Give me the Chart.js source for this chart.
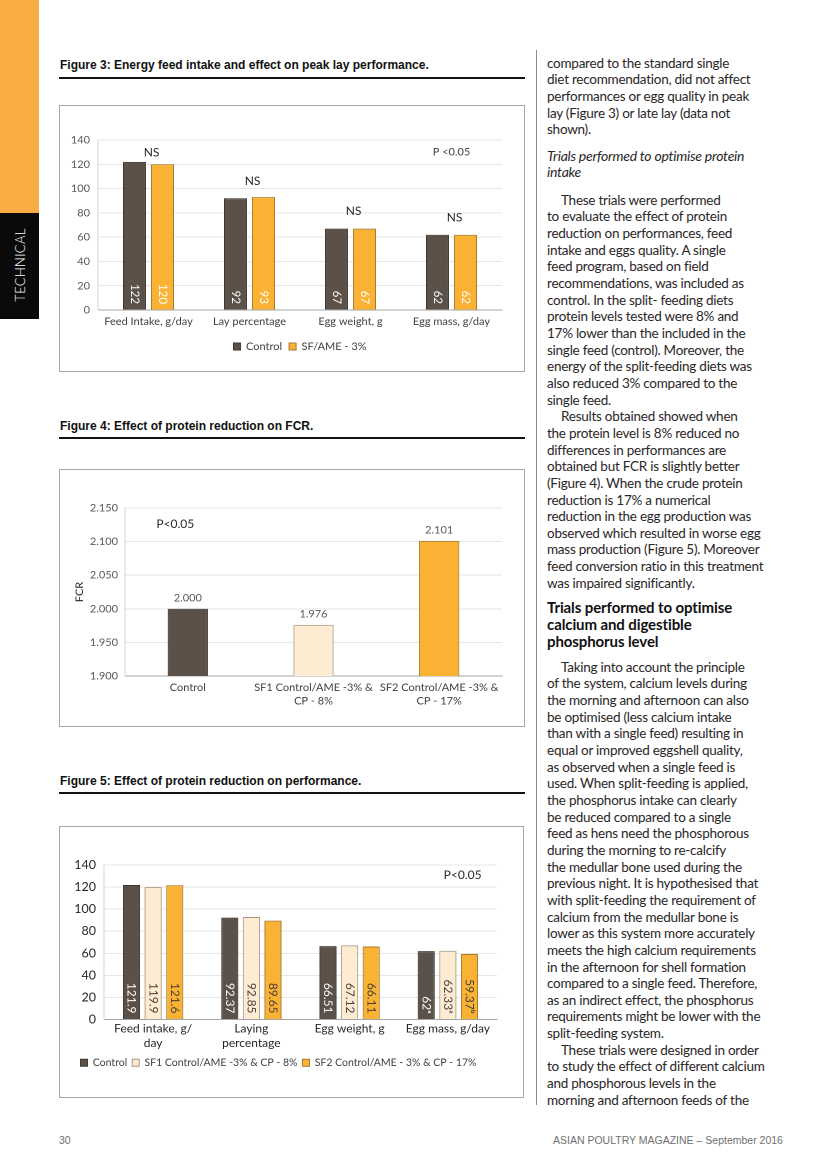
<!DOCTYPE html>
<html>
<head>
<meta charset="utf-8">
<script src="https://cdn.jsdelivr.net/npm/chart.js@4.4.1/dist/chart.umd.min.js"></script>
<style>
  body { margin: 0; width: 827px; height: 1170px; position: relative; background: #fff; overflow: hidden; font-family: Lato, sans-serif; }
  .strip-orange { position: absolute; left: 0; top: 0; width: 39px; height: 213px; background: #f9ae45; }
  .strip-black { position: absolute; left: 0; top: 213px; width: 39px; height: 106px; background: #0a0a0a; }
  .strip-text { position: absolute; left: 20px; top: 265px; transform: translate(-50%, -50%) rotate(-90deg); color: #fff; font: 300 13px Lato, sans-serif; letter-spacing: 0.3px; white-space: nowrap; }
  .fig-title { position: absolute; left: 60px; font: bold 12px "Liberation Sans", Arial, sans-serif; color: #111; white-space: nowrap; }
  .rule { position: absolute; left: 59px; width: 466px; height: 2px; background: #111; }
  .box { position: absolute; left: 59px; width: 466px; border: 1px solid #a8a8a8; box-sizing: border-box; }
  .box canvas { position: absolute; left: 0; top: 0; }
  .sep { position: absolute; left: 536px; top: 50px; width: 1px; height: 1055px; background: #8a8a8a; }
  .txt { position: absolute; left: 547px; font-size: 13.5px; line-height: 16.65px; color: #2a2627; letter-spacing: -0.25px; }
  .txt div { white-space: nowrap; }
  .ind { padding-left: 14px; }
  .ital { font-style: italic; font-size: 14px; }
  .head { font-weight: bold; font-size: 15px; line-height: 17px; letter-spacing: -0.1px; color: #111; }
  .foot { position: absolute; top: 1134px; font: 10.5px "Liberation Sans", Arial, sans-serif; color: #707070; white-space: nowrap; }
</style>
</head>
<body>
<div class="strip-orange"></div>
<div class="strip-black"></div>
<div class="strip-text">TECHNICAL</div>

<div class="fig-title" style="top:58px">Figure 3: Energy feed intake and effect on peak lay performance.</div>
<div class="rule" style="top:77px"></div>
<div class="box" style="top:105px;height:267px"><canvas id="fig3"></canvas></div>

<div class="fig-title" style="top:419px">Figure 4: Effect of protein reduction on FCR.</div>
<div class="rule" style="top:437px"></div>
<div class="box" style="top:469px;height:258px"><canvas id="fig4"></canvas></div>

<div class="fig-title" style="top:774px">Figure 5: Effect of protein reduction on performance.</div>
<div class="rule" style="top:792px"></div>
<div class="box" style="top:826px;height:272px;width:465px"><canvas id="fig5"></canvas></div>

<div class="sep"></div>

<div class="txt" style="top:54.7px">
  <div>compared to the standard single</div>
  <div>diet recommendation, did not affect</div>
  <div>performances or egg quality in peak</div>
  <div>lay (Figure 3) or late lay (data not</div>
  <div>shown).</div>
</div>
<div class="txt ital" style="top:147.7px">
  <div>Trials performed to optimise protein</div>
  <div>intake</div>
</div>
<div class="txt" style="top:191.7px">
  <div class="ind">These trials were performed</div>
  <div>to evaluate the effect of protein</div>
  <div>reduction on performances, feed</div>
  <div>intake and eggs quality. A single</div>
  <div>feed program, based on field</div>
  <div>recommendations, was included as</div>
  <div>control. In the split- feeding diets</div>
  <div>protein levels tested were 8% and</div>
  <div>17% lower than the included in the</div>
  <div>single feed (control). Moreover, the</div>
  <div>energy of the split-feeding diets was</div>
  <div>also reduced 3% compared to the</div>
  <div>single feed.</div>
  <div class="ind">Results obtained showed when</div>
  <div>the protein level is 8% reduced no</div>
  <div>differences in performances are</div>
  <div>obtained but FCR is slightly better</div>
  <div>(Figure 4). When the crude protein</div>
  <div>reduction is 17% a numerical</div>
  <div>reduction in the egg production was</div>
  <div>observed which resulted in worse egg</div>
  <div>mass production (Figure 5). Moreover</div>
  <div>feed conversion ratio in this treatment</div>
  <div>was impaired significantly.</div>
</div>
<div class="txt head" style="top:598.5px">
  <div>Trials performed to optimise</div>
  <div>calcium and digestible</div>
  <div>phosphorus level</div>
</div>
<div class="txt" style="top:658.7px">
  <div class="ind">Taking into account the principle</div>
  <div>of the system, calcium levels during</div>
  <div>the morning and afternoon can also</div>
  <div>be optimised (less calcium intake</div>
  <div>than with a single feed) resulting in</div>
  <div>equal or improved eggshell quality,</div>
  <div>as observed when a single feed is</div>
  <div>used. When split-feeding is applied,</div>
  <div>the phosphorus intake can clearly</div>
  <div>be reduced compared to a single</div>
  <div>feed as hens need the phosphorous</div>
  <div>during the morning to re-calcify</div>
  <div>the medullar bone used during the</div>
  <div>previous night. It is hypothesised that</div>
  <div>with split-feeding the requirement of</div>
  <div>calcium from the medullar bone is</div>
  <div>lower as this system more accurately</div>
  <div>meets the high calcium requirements</div>
  <div>in the afternoon for shell formation</div>
  <div>compared to a single feed. Therefore,</div>
  <div>as an indirect effect, the phosphorus</div>
  <div>requirements might be lower with the</div>
  <div>split-feeding system.</div>
  <div class="ind">These trials were designed in order</div>
  <div>to study the effect of different calcium</div>
  <div>and phosphorous levels in the</div>
  <div>morning and afternoon feeds of the</div>
</div>

<div class="foot" style="left:59px">30</div>
<div class="foot" style="left:553px">ASIAN POULTRY MAGAZINE – September 2016</div>

<script>
// Figure 3 data
const fig3Categories = ['Feed Intake, g/day', 'Lay percentage', 'Egg weight, g', 'Egg mass, g/day'];
const fig3Control = [122, 92, 67, 62];
const fig3Sf = [120, 93, 67, 62];
const fig3Ns = ['NS', 'NS', 'NS', 'NS'];
const fig3NsAt = [129.5, 106, 81.5, 76];

// Figure 4 data
const fig4Categories = [['Control'], ['SF1 Control/AME -3% &', 'CP - 8%'], ['SF2 Control/AME -3% &', 'CP - 17%']];
const fig4Fcr = [2.000, 1.976, 2.101];

// Figure 5 data
const fig5Categories = [['Feed intake, g/', 'day'], ['Laying', 'percentage'], 'Egg weight, g', 'Egg mass, g/day'];
const fig5Control = [121.9, 92.37, 66.51, 62];
const fig5Sf1 = [119.9, 92.85, 67.12, 62.33];
const fig5Sf2 = [121.6, 89.65, 66.11, 59.37];
const fig5ControlSup = ['', '', '', 'ᵃ'];
const fig5Sf1Sup = ['', '', '', 'ᵃ'];
const fig5Sf2Sup = ['', '', '', 'ᵇ'];

const DARK = '#5b5148';
const ORANGE = '#f9b233';
const CREAM = '#fdebd2';

Chart.defaults.font.family = 'Lato, sans-serif';
Chart.defaults.animation = false;
Chart.defaults.devicePixelRatio = 2;

// value labels on bars, either rotated at the base or above the bar
const barLabels = {
    id: 'barLabels',
    afterDatasetsDraw(chart, args, opts) {
        const ctx = chart.ctx;
        const y = chart.scales.y;
        const base = y.getPixelForValue(y.min);
        chart.data.datasets.forEach((ds, i) => {
            chart.getDatasetMeta(i).data.forEach((bar, j) => {
                const text = ds.valueLabels[j];
                ctx.save();
                ctx.font = opts.font;
                ctx.fillStyle = ds.labelColor;
                ctx.textBaseline = 'middle';
                if (opts.rotate) {
                    ctx.translate(bar.x, base - opts.offset);
                    ctx.rotate(Math.PI / 2);
                    ctx.textAlign = 'right';
                    ctx.fillText(text, 0, 0);
                } else {
                    ctx.textAlign = 'center';
                    ctx.fillText(text, bar.x, bar.y - opts.offset);
                }
                ctx.restore();
            });
        });
    }
};

// free text placed in data units (category index, value)
const notes = {
    id: 'notes',
    afterDraw(chart, args, opts) {
        const ctx = chart.ctx;
        (opts.items || []).forEach(it => {
            ctx.save();
            ctx.font = it.font;
            ctx.fillStyle = it.color;
            ctx.textAlign = 'center';
            ctx.textBaseline = 'middle';
            ctx.fillText(it.text, chart.scales.x.getPixelForValue(it.x), chart.scales.y.getPixelForValue(it.y));
            ctx.restore();
        });
    }
};

function sizeCanvas(id) {
    const el = document.getElementById(id);
    const box = el.parentElement;
    el.style.width = (box.clientWidth) + 'px';
    el.style.height = (box.clientHeight) + 'px';
    return el;
}

// 1. Figure 3
new Chart(sizeCanvas('fig3'), {
    type: 'bar',
    data: {
        labels: fig3Categories,
        datasets: [{
            label: 'Control',
            data: fig3Control,
            backgroundColor: DARK,
            borderColor: '#3e362f',
            borderWidth: 1,
            valueLabels: fig3Control.map(String),
            labelColor: '#ffffff'
        }, {
            label: 'SF/AME - 3%',
            data: fig3Sf,
            backgroundColor: ORANGE,
            borderColor: '#a8782c',
            borderWidth: 1,
            valueLabels: fig3Sf.map(String),
            labelColor: '#ffffff'
        }]
    },
    options: {
        responsive: false,
        categoryPercentage: 0.555,
        barPercentage: 0.82,
        layout: { padding: { top: 34, right: 22, left: 0, bottom: 9 } },
        plugins: {
            legend: {
                position: 'bottom',
                fullSize: false,
                labels: { boxWidth: 7, boxHeight: 7, padding: 7, color: '#404040', font: { size: 11 } }
            },
            tooltip: { enabled: false },
            barLabels: { rotate: true, offset: 6, font: '11.5px Lato' },
            notes: {
                items: fig3Ns.map((t, i) => ({ text: t, x: i + 0.03, y: fig3NsAt[i], font: '12px Lato', color: '#262626' }))
                    .concat([{ text: 'P <0.05', x: 3, y: 130, font: '11px Lato', color: '#404040' }])
            }
        },
        scales: {
            x: {
                grid: { display: false, drawTicks: false },
                border: { color: '#a6a6a6' },
                ticks: { color: '#404040', font: { size: 11 }, padding: 5 },
                afterFit(s) { s.height = 24; }
            },
            y: {
                min: 0, max: 140,
                grid: { color: '#e6e6e6', drawTicks: false },
                border: { color: '#d4d4d4' },
                ticks: { stepSize: 20, color: '#595959', font: { size: 11 }, padding: 8 },
                afterFit(s) { s.width = 38; }
            }
        }
    },
    plugins: [barLabels, notes]
});

// 2. Figure 4
new Chart(sizeCanvas('fig4'), {
    type: 'bar',
    data: {
        labels: fig4Categories,
        datasets: [{
            data: fig4Fcr,
            backgroundColor: [DARK, CREAM, ORANGE],
            borderColor: ['#3e362f', '#b5a48c', '#a8782c'],
            borderWidth: 1,
            valueLabels: fig4Fcr.map(v => v.toFixed(3)),
            labelColor: '#595959'
        }]
    },
    options: {
        responsive: false,
        categoryPercentage: 1,
        barPercentage: 0.32,
        layout: { padding: { top: 38, right: 22, left: 0, bottom: 10 } },
        plugins: {
            legend: { display: false },
            tooltip: { enabled: false },
            barLabels: { rotate: false, offset: 11, font: '11px Lato' },
            notes: { items: [{ text: 'P<0.05', x: -0.1, y: 2.126, font: '12px Lato', color: '#262626' }] }
        },
        scales: {
            x: {
                grid: { display: false, drawTicks: false },
                border: { color: '#a6a6a6' },
                ticks: { color: '#404040', font: { size: 11 }, padding: 5 },
                afterFit(s) { s.height = 40; }
            },
            y: {
                min: 1.9, max: 2.15,
                grid: { color: '#e6e6e6', drawTicks: false },
                border: { color: '#d4d4d4' },
                title: { display: true, text: 'FCR', color: '#262626', font: { size: 11 }, padding: { top: 13, bottom: 0 } },
                ticks: { stepSize: 0.05, color: '#595959', font: { size: 11 }, padding: 7, callback: v => Number(v).toFixed(3) },
                afterFit(s) { s.width = 65; }
            }
        }
    },
    plugins: [barLabels, notes]
});

// 3. Figure 5
new Chart(sizeCanvas('fig5'), {
    type: 'bar',
    data: {
        labels: fig5Categories,
        datasets: [{
            label: 'Control',
            data: fig5Control,
            backgroundColor: DARK,
            borderColor: '#3e362f',
            borderWidth: 1,
            valueLabels: fig5Control.map((v, i) => String(v) + fig5ControlSup[i]),
            labelColor: '#ffffff'
        }, {
            label: 'SF1 Control/AME -3% & CP - 8%',
            data: fig5Sf1,
            backgroundColor: CREAM,
            borderColor: '#a8967e',
            borderWidth: 1,
            valueLabels: fig5Sf1.map((v, i) => String(v) + fig5Sf1Sup[i]),
            labelColor: '#4a4038'
        }, {
            label: 'SF2 Control/AME - 3% & CP - 17%',
            data: fig5Sf2,
            backgroundColor: ORANGE,
            borderColor: '#a8782c',
            borderWidth: 1,
            valueLabels: fig5Sf2.map((v, i) => String(v) + fig5Sf2Sup[i]),
            labelColor: '#4a4038'
        }]
    },
    options: {
        responsive: false,
        categoryPercentage: 0.66,
        barPercentage: 0.79,
        layout: { padding: { top: 38, right: 26, left: 0, bottom: 19 } },
        plugins: {
            legend: {
                position: 'bottom',
                labels: { boxWidth: 7, boxHeight: 7, padding: 5, color: '#404040', font: { size: 10.5 } }
            },
            tooltip: { enabled: false },
            barLabels: { rotate: true, offset: 6, font: '12px Lato' },
            notes: { items: [{ text: 'P<0.05', x: 3.15, y: 131, font: '12px Lato', color: '#262626' }] }
        },
        scales: {
            x: {
                grid: { display: false, drawTicks: false },
                border: { color: '#a6a6a6' },
                ticks: { color: '#262626', font: { size: 12, lineHeight: 1.2 }, padding: 2 },
                afterFit(s) { s.height = 33; }
            },
            y: {
                min: 0, max: 140,
                grid: { color: '#e6e6e6', drawTicks: false },
                border: { color: '#d4d4d4' },
                ticks: { stepSize: 20, color: '#262626', font: { size: 12.5 }, padding: 8 },
                afterFit(s) { s.width = 44; }
            }
        }
    },
    plugins: [barLabels, notes]
});
</script>
</body>
</html>
